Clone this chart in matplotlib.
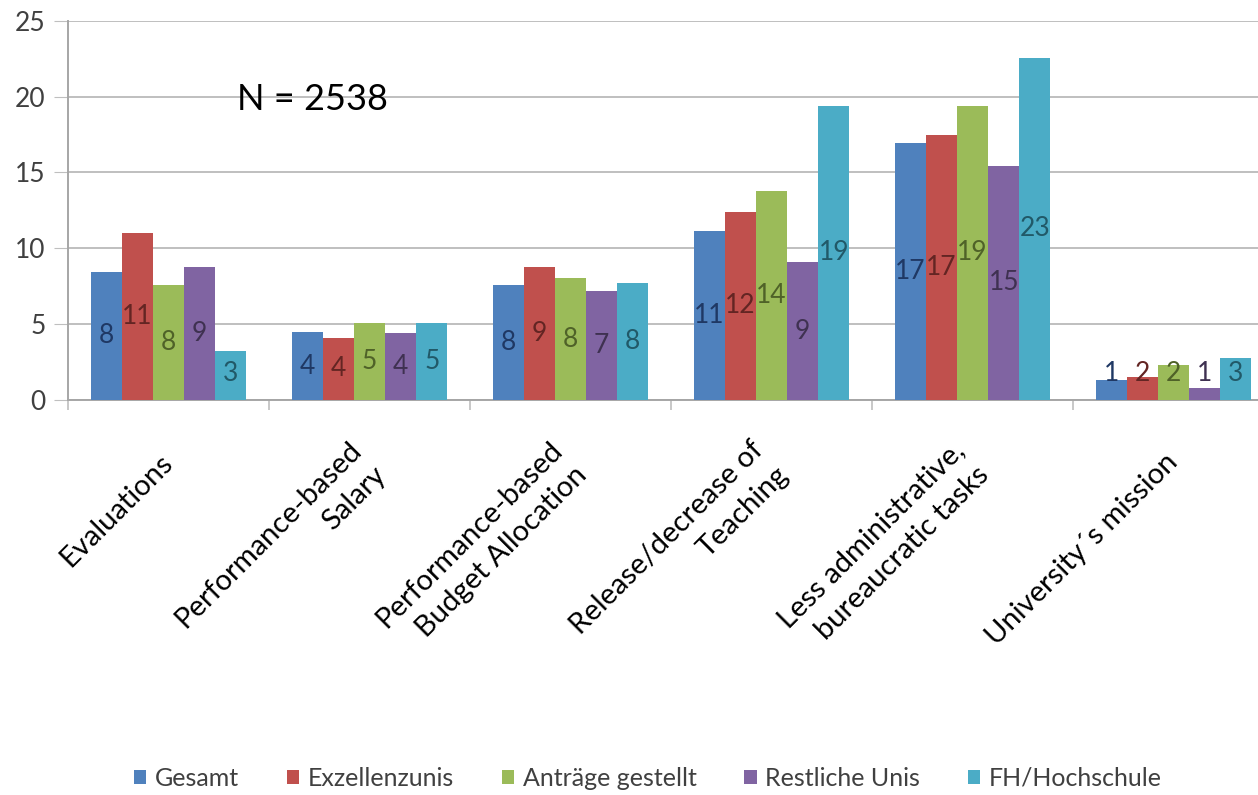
import matplotlib.pyplot as plt
import numpy as np
from matplotlib.patches import Patch

plt.rcParams['font.family'] = ['Lato', 'DejaVu Sans']

# share of respondents per incentive, by group (percent)
categories = ['Evaluations', 'Performance-based\nSalary', 'Performance-based\nBudget Allocation',
              'Release/decrease of\nTeaching', 'Less administrative,\nbureaucratic tasks',
              'University\u00b4s mission']
series = ['Gesamt', 'Exzellenzunis', 'Antr\u00e4ge gestellt', 'Restliche Unis', 'FH/Hochschule']
gesamt = [8.46, 4.45, 7.58, 11.16, 16.92, 1.32]
exzellenz = [10.99, 4.11, 8.75, 12.41, 17.47, 1.5]
antraege = [7.58, 5.05, 8.02, 13.78, 19.4, 2.31]
restliche = [8.75, 4.39, 7.19, 9.07, 15.45, 0.77]
fh = [3.23, 5.05, 7.73, 19.4, 22.57, 2.75]
yticks = [0, 5, 10, 15, 20, 25]

values = [gesamt, exzellenz, antraege, restliche, fh]
colors = ['#4F81BD', '#C0504D', '#9BBB59', '#8064A2', '#4BACC6']
label_colors = ['#1F3864', '#632523', '#4F6228', '#3F3151', '#215968']

fig = plt.figure(figsize=(12.58, 7.95), dpi=100)
ax = fig.add_axes([68 / 1258, 395 / 795, 1206 / 1258, 379.3 / 795])

x = np.arange(len(categories))
width = 0.155
for i, (vals, c, lc) in enumerate(zip(values, colors, label_colors)):
    pos = x + (i - 2) * width
    ax.bar(pos, vals, width=width, color=c, zorder=3)
    for px, v in zip(pos, vals):
        ax.text(px, max(v / 2, 1.75), str(int(np.floor(v + 0.5))), ha='center', va='center',
                fontsize=19, color=lc, zorder=4)

ax.set_xlim(-0.5, len(categories) - 0.5)
ax.set_ylim(0, 25)
ax.set_yticks(yticks)
ax.tick_params(axis='y', labelsize=19, length=10, color='#bfbfbf', labelcolor='#404040', pad=6)
ax.yaxis.grid(True, color='#bfbfbf', linewidth=1.4, zorder=0)

# category boundaries as minor ticks, labels on major ticks without marks
ax.set_xticks(x)
ax.set_xticks(np.arange(len(categories) + 1) - 0.5, minor=True)
ax.tick_params(axis='x', which='major', length=0, pad=42)
ax.tick_params(axis='x', which='minor', length=7, color='#bfbfbf', width=1.2)
ax.set_xticklabels(categories, rotation=45, ha='right', va='center', rotation_mode='anchor',
                   fontsize=21, multialignment='right', linespacing=1.45)

for side in ['top', 'right']:
    ax.spines[side].set_visible(False)
for side in ['left', 'bottom']:
    ax.spines[side].set_color('#a6a6a6')
    ax.spines[side].set_linewidth(1.4)

fig.text(237 / 1258, 1 - 100 / 795, 'N = 2538', fontsize=26, va='center', ha='left')

handles = [Patch(facecolor=c, label=s) for c, s in zip(colors, series)]
fig.legend(handles=handles, loc='center', bbox_to_anchor=(0.515, 1 - 778 / 795), ncol=5,
           frameon=False, fontsize=18, handlelength=0.5, handleheight=0.5, handletextpad=0.35,
           columnspacing=1.9, labelcolor='#404040')

fig.savefig('out.png', dpi=100)
